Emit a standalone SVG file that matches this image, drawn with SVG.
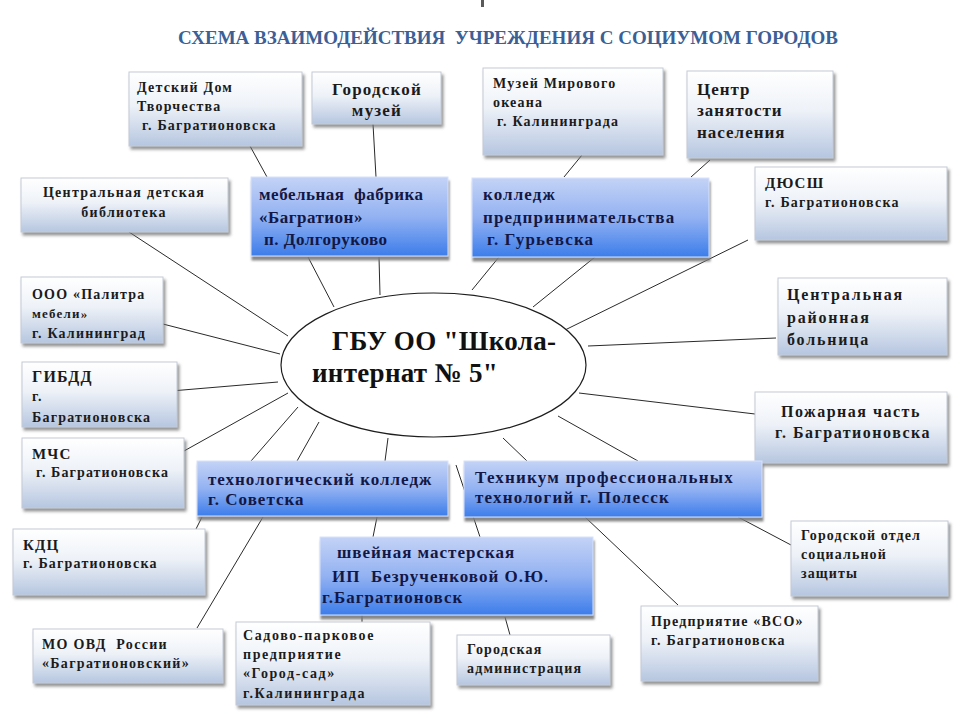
<svg xmlns="http://www.w3.org/2000/svg" width="960" height="718" viewBox="0 0 960 718">
<defs>
<linearGradient id="gl" x1="0" y1="0" x2="0" y2="1">
<stop offset="0" stop-color="#ffffff"/>
<stop offset="0.45" stop-color="#eef2f8"/>
<stop offset="1" stop-color="#b6c6e0"/>
</linearGradient>
<linearGradient id="gb" x1="0" y1="0" x2="0" y2="1">
<stop offset="0" stop-color="#c4d3f6"/>
<stop offset="0.5" stop-color="#93b2f2"/>
<stop offset="1" stop-color="#3c7dea"/>
</linearGradient>
<filter id="sl" x="-5%" y="-5%" width="115%" height="130%">
<feDropShadow dx="2" dy="3" stdDeviation="1.5" flood-color="#6f6f6f" flood-opacity="0.75"/>
</filter>
<filter id="sb" x="-5%" y="-5%" width="115%" height="130%">
<feDropShadow dx="1" dy="4" stdDeviation="0.8" flood-color="#7a7a7a" flood-opacity="0.9"/>
</filter>
<style>
.bl{fill:url(#gl);stroke:#c3cad6;stroke-width:1;filter:url(#sl)}
.bb{fill:url(#gb);stroke:#d7e2fb;stroke-width:1;filter:url(#sb)}
text{font-family:"Liberation Serif","Times New Roman",serif;font-weight:bold;white-space:pre}
.t{font-size:14px;letter-spacing:1.2px;fill:#1b1b1b}
.m{font-size:16px;letter-spacing:1.5px;fill:#1b1b1b}
.b{font-size:17px;letter-spacing:1px;fill:#131745}
.c{text-anchor:middle}
.ln{stroke:#2a2a2a;stroke-width:1;fill:none}
</style>
</defs>
<rect width="960" height="718" fill="#ffffff"/>
<rect x="481" y="0" width="3" height="7" fill="#5a5a5a"/>
<text x="178" y="44" font-size="19" fill="#3b5f96" textLength="660" lengthAdjust="spacingAndGlyphs">СХЕМА ВЗАИМОДЕЙСТВИЯ  УЧРЕЖДЕНИЯ С СОЦИУМОМ ГОРОДОВ</text>

<g id="connectors">
<line class="ln" x1="250" y1="146" x2="267" y2="177"/>
<line class="ln" x1="373" y1="124" x2="376" y2="177"/>
<line class="ln" x1="582" y1="155" x2="564" y2="177"/>
<line class="ln" x1="710" y1="160" x2="691" y2="177"/>
<line class="ln" x1="129" y1="232" x2="288" y2="336"/>
<line class="ln" x1="308" y1="257" x2="334" y2="307"/>
<line class="ln" x1="379" y1="257" x2="380" y2="295"/>
<line class="ln" x1="499" y1="257" x2="472" y2="290"/>
<line class="ln" x1="595" y1="257" x2="533" y2="307"/>
<line class="ln" x1="748" y1="240" x2="565" y2="330"/>
<line class="ln" x1="159" y1="323" x2="280" y2="354"/>
<line class="ln" x1="159" y1="392" x2="278" y2="382"/>
<line class="ln" x1="184" y1="451" x2="288" y2="393"/>
<line class="ln" x1="776" y1="338" x2="588" y2="346"/>
<line class="ln" x1="755" y1="414" x2="579" y2="393"/>
<line class="ln" x1="251" y1="461" x2="298" y2="407"/>
<line class="ln" x1="297" y1="461" x2="319" y2="422"/>
<line class="ln" x1="385" y1="461" x2="388" y2="438"/>
<line class="ln" x1="503" y1="438" x2="527" y2="461"/>
<line class="ln" x1="558" y1="416" x2="638" y2="461"/>
<line class="ln" x1="456" y1="465" x2="480" y2="537"/>
<line class="ln" x1="377" y1="517" x2="373" y2="537"/>
<line class="ln" x1="263" y1="517" x2="197" y2="628"/>
<line class="ln" x1="202" y1="517" x2="196" y2="529"/>
<line class="ln" x1="585" y1="517" x2="678" y2="605"/>
<line class="ln" x1="738" y1="517" x2="791" y2="545"/>
<line class="ln" x1="505" y1="617" x2="510" y2="635"/>
<line class="ln" x1="362" y1="615" x2="362" y2="622"/>
</g>

<g id="center">
<ellipse cx="433.5" cy="365" rx="152.5" ry="72" fill="#ffffff" stroke="#1e1e1e" stroke-width="1.2"/>
<text x="332" y="350" style="font-size:27px;letter-spacing:0.3px" fill="#111">ГБУ ОО "Школа-</text>
<text x="312" y="382" style="font-size:27px;letter-spacing:0.3px" fill="#111">интернат № 5"</text>
</g>

<g id="n-ddt">
<rect class="bl" x="129" y="72" width="173" height="74"/>
<text class="t" x="137" y="92">Детский Дом</text>
<text class="t" x="137" y="111">Творчества</text>
<text class="t" x="142" y="130">г. Багратионовска</text>
</g>
<g id="n-muzey">
<rect class="bl" x="312" y="72" width="129" height="52"/>
<text class="t c" x="377" y="95" style="font-size:17px">Городской</text>
<text class="t c" x="377" y="116" style="font-size:17px">музей</text>
</g>
<g id="n-okean">
<rect class="bl" x="483" y="68" width="180" height="87"/>
<text class="t" x="493" y="88">Музей Мирового</text>
<text class="t" x="493" y="107">океана</text>
<text class="t" x="497" y="126">г. Калининграда</text>
</g>
<g id="n-czn">
<rect class="bl" x="687" y="71" width="146" height="87"/>
<text class="t" x="697" y="95" style="font-size:17px;letter-spacing:1px">Центр</text>
<text class="t" x="697" y="116" style="font-size:17px;letter-spacing:1px">занятости</text>
<text class="t" x="697" y="138" style="font-size:17px;letter-spacing:1px">населения</text>
</g>
<g id="n-bibl">
<rect class="bl" x="21" y="178" width="207" height="54"/>
<text class="t c" x="124" y="197" style="letter-spacing:1.3px">Центральная детская</text>
<text class="t c" x="124" y="217" style="letter-spacing:1.3px">библиотека</text>
</g>
<g id="n-mebel">
<rect class="bb" x="251" y="177" width="197" height="79"/>
<text class="b" x="259" y="200" style="letter-spacing:0.5px">мебельная  фабрика</text>
<text class="b" x="259" y="223" style="letter-spacing:0.5px">«Багратион»</text>
<text class="b" x="264" y="245" style="letter-spacing:0.5px">п. Долгоруково</text>
</g>
<g id="n-kolledzh">
<rect class="bb" x="472" y="178" width="237" height="79"/>
<text class="b" x="483" y="200" style="letter-spacing:1.1px">колледж</text>
<text class="b" x="483" y="223" style="letter-spacing:1.1px">предпринимательства</text>
<text class="b" x="487" y="245" style="letter-spacing:1.1px">г. Гурьевска</text>
</g>
<g id="n-dyussh">
<rect class="bl" x="755" y="167" width="192" height="73"/>
<text class="t" x="765" y="188" style="font-size:15px">ДЮСШ</text>
<text class="t" x="765" y="207">г. Багратионовска</text>
</g>
<g id="n-palitra">
<rect class="bl" x="21" y="277" width="142" height="66"/>
<text class="t" x="32" y="299">ООО «Палитра</text>
<text class="t" x="32" y="318" style="font-size:13px">мебели»</text>
<text class="t" x="32" y="338">г. Калининград</text>
</g>
<g id="n-bolnica">
<rect class="bl" x="778" y="278" width="169" height="77"/>
<text class="m" x="787" y="300" style="letter-spacing:1.8px">Центральная</text>
<text class="m" x="787" y="323" style="letter-spacing:1.8px">районная</text>
<text class="m" x="787" y="345" style="letter-spacing:1.8px">больница</text>
</g>
<g id="n-gibdd">
<rect class="bl" x="22" y="362" width="155" height="65"/>
<text class="t" x="32" y="382" style="font-size:16px">ГИБДД</text>
<text class="t" x="32" y="401">г.</text>
<text class="t" x="32" y="422">Багратионовска</text>
</g>
<g id="n-pozhar">
<rect class="bl" x="755" y="392" width="192" height="71"/>
<text class="m c" x="851" y="417">Пожарная часть</text>
<text class="m c" x="853" y="438">г. Багратионовска</text>
</g>
<g id="n-mchs">
<rect class="bl" x="22" y="438" width="162" height="70"/>
<text class="t" x="32" y="459" style="font-size:15px">МЧС</text>
<text class="t" x="36" y="477" style="letter-spacing:1.1px">г. Багратионовска</text>
</g>
<g id="n-tehkolledzh">
<rect class="bb" x="197" y="461" width="251" height="55"/>
<text class="b" x="208" y="485">технологический колледж</text>
<text class="b" x="208" y="505">г. Советска</text>
</g>
<g id="n-tehnikum">
<rect class="bb" x="464" y="461" width="298" height="56"/>
<text class="b" x="475" y="483" style="letter-spacing:1.2px">Техникум профессиональных</text>
<text class="b" x="475" y="503" style="letter-spacing:1.2px">технологий г. Полесск</text>
</g>
<g id="n-soczashita">
<rect class="bl" x="791" y="521" width="157" height="75"/>
<text class="t" x="801" y="540" style="letter-spacing:1.1px">Городской отдел</text>
<text class="t" x="801" y="559" style="letter-spacing:1.1px">социальной</text>
<text class="t" x="801" y="578" style="letter-spacing:1.1px">защиты</text>
</g>
<g id="n-kdc">
<rect class="bl" x="13" y="529" width="192" height="66"/>
<text class="t" x="23" y="550" style="font-size:15px">КДЦ</text>
<text class="t" x="23" y="568">г. Багратионовска</text>
</g>
<g id="n-shveynaya">
<rect class="bb" x="320" y="537" width="273" height="78"/>
<text class="b" x="337" y="558">швейная мастерская</text>
<text class="b" x="332" y="582">ИП  Безрученковой О.Ю<tspan style="font-weight:normal">.</tspan></text>
<text class="b" x="322" y="603">г.Багратионовск</text>
</g>
<g id="n-movd">
<rect class="bl" x="33" y="629" width="190" height="54"/>
<text class="t" x="42" y="649" style="letter-spacing:1.3px">МО ОВД  России</text>
<text class="t" x="42" y="668" style="letter-spacing:1.3px">«Багратионовский»</text>
</g>
<g id="n-gorodsad">
<rect class="bl" x="236" y="622" width="194" height="83"/>
<text class="t" x="243" y="640" style="letter-spacing:1.6px">Садово-парковое</text>
<text class="t" x="243" y="659" style="letter-spacing:1.6px">предприятие</text>
<text class="t" x="243" y="678" style="letter-spacing:1.6px">«Город-сад»</text>
<text class="t" x="243" y="698" style="letter-spacing:1.6px">г.Калининграда</text>
</g>
<g id="n-admin">
<rect class="bl" x="457" y="635" width="153" height="50"/>
<text class="t" x="467" y="654">Городская</text>
<text class="t" x="467" y="673">администрация</text>
</g>
<g id="n-vso">
<rect class="bl" x="641" y="606" width="177" height="75"/>
<text class="t" x="651" y="626">Предприятие «ВСО»</text>
<text class="t" x="651" y="645">г. Багратионовска</text>
</g>
</svg>
